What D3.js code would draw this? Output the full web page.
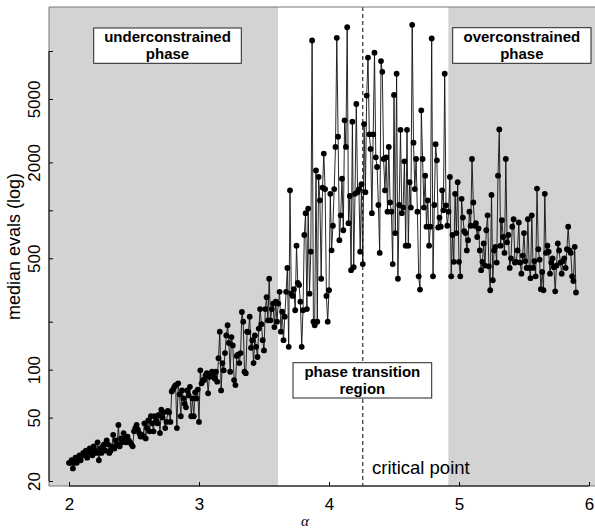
<!DOCTYPE html>
<html>
<head>
<meta charset="utf-8">
<script src="https://cdn.jsdelivr.net/npm/d3@7"></script>
<style>
  html, body { margin: 0; padding: 0; background: #fff; }
  svg { display: block; }
</style>
</head>
<body>
<svg id="chart" width="595" height="529"></svg>
<script>
// ---- data ----
const alphaStart = 2.0;
const alphaStep = 0.01;
const medianEvals = [
  26, 26, 27, 24, 26, 28, 26, 28, 29, 27,
  29, 30, 29, 31, 28, 30, 32, 31, 29, 33,
  31, 30, 35, 27, 32, 30, 33, 34, 31, 36,
  34, 30, 31, 33, 39, 32, 36, 34, 45, 33,
  37, 35, 40, 37, 35, 38, 36, 35, 34, 33,
  41, 43, 45, 42, 40, 38, 39, 38, 46, 37,
  43, 48, 41, 51, 46, 41, 51, 48, 46, 52,
  40, 56, 50, 54, 43, 47, 55, 54, 47, 73,
  75, 78, 80, 43, 82, 70, 51, 74, 66, 61,
  58, 74, 69, 78, 51, 66, 51, 72, 66, 75,
  47, 99, 82, 86, 86, 92, 95, 71, 90, 91,
  97, 94, 88, 97, 84, 118, 173, 74, 110, 99,
  127, 164, 190, 147, 97, 160, 142, 86, 80, 122,
  124, 110, 127, 230, 200, 97, 95, 173, 172, 215,
  137, 153, 110, 164, 139, 120, 181, 240, 193, 153,
  132, 240, 285, 204, 372, 204, 240, 260, 185, 267,
  200, 260, 308, 173, 231, 153, 215, 308, 435, 139,
  1335, 300, 290, 320, 236, 600, 350, 340, 267, 139,
  236, 700, 960, 240, 1025, 300, 550, 11640, 200, 190,
  1780, 200, 1620, 1156, 372, 1390, 2270, 1360, 290, 200,
  315, 1270, 561, 800, 1360, 2500, 12100, 2900, 650, 930,
  1580, 750, 3670, 2500, 14100, 830, 1230, 421, 3600, 440,
  1270, 4650, 1300, 1360, 550, 1460, 460, 3480, 1300, 5250,
  9100, 3000, 2430, 960, 3000, 9750, 2150, 1870, 1080, 540,
  8650, 7400, 2100, 1335, 2150, 980, 2500, 1120, 980, 460,
  5300, 720, 7200, 372, 1080, 3200, 960, 1040, 2030, 600,
  3200, 600, 1500, 1040, 14600, 2660, 1360, 2100, 980, 385,
  318, 4240, 2100, 1040, 1650, 790, 1156, 600, 790, 12000,
  385, 1080, 2600, 2060, 780, 900, 790, 1335, 1000, 7200,
  1075, 800, 980, 1620, 385, 700, 475, 1270, 720, 1500,
  475, 385, 1180, 900, 740, 720, 560, 650, 980, 800,
  2100, 1120, 800, 830, 680, 770, 560, 421, 475, 620,
  450, 750, 930, 445, 315, 1250, 364, 560, 590, 470,
  1650, 3220, 600, 866, 680, 540, 2100, 630, 700, 435,
  500, 790, 880, 470, 475, 560, 840, 470, 400, 520,
  720, 480, 435, 880, 435, 375, 930, 435, 480, 385,
  1370, 570, 490, 320, 410, 315, 1270, 540, 600, 550,
  400, 470, 500, 440, 310, 450, 620, 560, 470, 400,
  480, 500, 435, 570, 790, 560, 540, 385, 360, 590,
  305
];
const xTicks = [2, 3, 4, 5, 6];
const yTicks = [20, 50, 100, 200, 500, 1000, 2000, 5000, 10000];
const yTickLabels = [20, 50, 100, 500, 2000, 5000];
const phaseBounds = { underEnd: 3.608, overStart: 4.918, critical: 4.26 };
const phaseLabels = [
  ["underconstrained", "phase"],
  ["overconstrained", "phase"],
  ["phase transition", "region"]
];

// ---- layout ----
const W = 595, H = 529;
const plot = { left: 49, top: 7, bottom: 486, right: 605 };
const svg = d3.select("#chart");
svg.append("rect").attr("width", W).attr("height", H).attr("fill", "#fff");

const x = d3.scaleLinear().domain([2, 6]).range([69, 589]);
const y = d3.scaleLog().domain([20, 10000]).range([481, 51]);

const data = medianEvals.map((v, i) => ({ a: alphaStart + i * alphaStep, v }));

svg.append("defs").append("clipPath").attr("id", "clip")
  .append("rect").attr("x", plot.left).attr("y", plot.top)
  .attr("width", plot.right - plot.left).attr("height", plot.bottom - plot.top);

const g = svg.append("g").attr("clip-path", "url(#clip)");

// grey phase regions
g.append("rect").attr("x", plot.left).attr("y", plot.top)
  .attr("width", x(phaseBounds.underEnd) - plot.left).attr("height", plot.bottom - plot.top)
  .attr("fill", "#d3d3d3");
g.append("rect").attr("x", x(phaseBounds.overStart)).attr("y", plot.top)
  .attr("width", plot.right - x(phaseBounds.overStart)).attr("height", plot.bottom - plot.top)
  .attr("fill", "#d3d3d3");

// critical line
g.append("line")
  .attr("x1", x(phaseBounds.critical)).attr("x2", x(phaseBounds.critical))
  .attr("y1", plot.top).attr("y2", plot.bottom)
  .attr("stroke", "#000").attr("stroke-width", 1).attr("stroke-dasharray", "4,3");

// data line + points
g.append("path").datum(data)
  .attr("fill", "none").attr("stroke", "#111").attr("stroke-width", 0.9)
  .attr("d", d3.line().x(d => x(d.a)).y(d => y(d.v)));
g.selectAll("circle.pt").data(data).enter().append("circle")
  .attr("class", "pt")
  .attr("cx", d => x(d.a)).attr("cy", d => y(d.v)).attr("r", 2.9)
  .attr("fill", "#000");

// label boxes (two-line text as one text element with tspans)
const boxSpecs = [
  { x0: 93.7, x1: 241.3, y0: 28, y1: 63.3, b1: 42.2, b2: 59.2 },
  { x0: 452.7, x1: 591, y0: 27.7, y1: 63.3, b1: 42.2, b2: 59.2 },
  { x0: 293, x1: 431.7, y0: 362.7, y1: 398, b1: 376.8, b2: 393.8 }
];
phaseLabels.forEach((lines, i) => {
  const b = boxSpecs[i];
  svg.append("rect").attr("x", b.x0).attr("y", b.y0)
    .attr("width", b.x1 - b.x0).attr("height", b.y1 - b.y0)
    .attr("fill", "#fff").attr("stroke", "#222").attr("stroke-width", 1);
  const cx = (b.x0 + b.x1) / 2;
  const t = svg.append("text")
    .attr("text-anchor", "middle")
    .attr("font-family", "'Liberation Sans', Arial, sans-serif")
    .attr("font-weight", "bold").attr("font-size", 15)
    .attr("fill", "#000");
  t.append("tspan").attr("x", cx).attr("y", b.b1).text(lines[0]);
  t.append("tspan").attr("x", cx).attr("y", b.b2).text(lines[1]);
});

// critical point text
svg.append("text").attr("x", 372).attr("y", 474)
  .attr("font-family", "'Liberation Sans', Arial, sans-serif")
  .attr("font-size", 18.5).attr("fill", "#000").text("critical point");

// frame (grey box)
svg.append("path")
  .attr("d", `M${plot.right},${plot.top}H${plot.left}V${plot.bottom}H${plot.right}`)
  .attr("fill", "none").attr("stroke", "#777").attr("stroke-width", 1);

// x axis
const xAxis = d3.axisBottom(x).tickValues(xTicks).tickSizeInner(-4).tickSizeOuter(0)
  .tickPadding(12).tickFormat(d3.format("d"));
const gx = svg.append("g").attr("transform", `translate(0,${plot.bottom})`).call(xAxis);
gx.select(".domain").remove();
gx.selectAll(".tick line").attr("stroke", "#000");
gx.selectAll(".tick text").attr("font-family", "'Liberation Sans', Arial, sans-serif")
  .attr("font-size", 17).attr("fill", "#000");
svg.append("line").attr("x1", x(xTicks[0])).attr("x2", x(xTicks[xTicks.length - 1]))
  .attr("y1", plot.bottom).attr("y2", plot.bottom).attr("stroke", "#000").attr("stroke-width", 1);

// y axis
const yAxis = d3.axisLeft(y).tickValues(yTicks).tickSizeInner(-4).tickSizeOuter(0)
  .tickFormat(d => yTickLabels.includes(d) ? String(d) : "");
const gy = svg.append("g").attr("transform", `translate(${plot.left},0)`).call(yAxis);
gy.select(".domain").remove();
gy.selectAll(".tick line").attr("stroke", "#000");
gy.selectAll(".tick text")
  .attr("x", null).attr("dy", null).attr("y", 0)
  .attr("transform", "translate(-9,0) rotate(-90)")
  .attr("text-anchor", "middle")
  .attr("font-family", "'Liberation Sans', Arial, sans-serif")
  .attr("font-size", 17).attr("fill", "#000");
svg.append("line").attr("x1", plot.left).attr("x2", plot.left)
  .attr("y1", y(yTicks[0])).attr("y2", y(yTicks[yTicks.length - 1]))
  .attr("stroke", "#000").attr("stroke-width", 1);

// axis titles
svg.append("text")
  .attr("transform", `translate(20,${(plot.top + plot.bottom) / 2}) rotate(-90)`)
  .attr("text-anchor", "middle")
  .attr("font-family", "'Liberation Sans', Arial, sans-serif")
  .attr("font-size", 18).attr("fill", "#000").text("median evals (log)");
svg.append("text").attr("x", 305).attr("y", 526)
  .attr("text-anchor", "middle")
  .attr("font-family", "'Liberation Serif', 'Times New Roman', serif")
  .attr("font-style", "italic").attr("font-size", 15).attr("fill", "#000").text("α");
</script>
</body>
</html>
